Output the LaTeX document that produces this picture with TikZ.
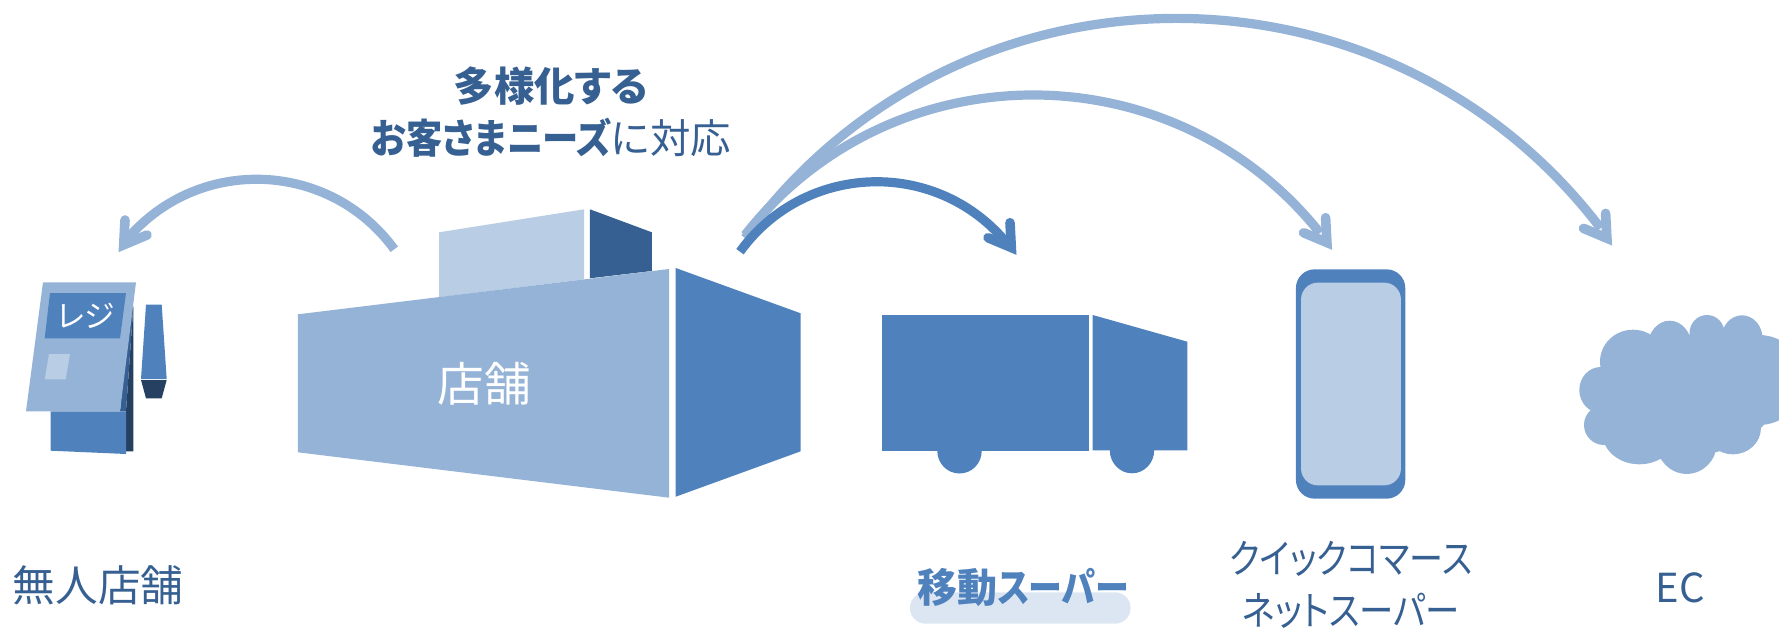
\documentclass[tikz,border=0pt]{standalone}
\usepackage{fontspec}
\setmainfont[RawFeature=+palt]{Noto Sans CJK JP}
\definecolor{cLight}{HTML}{95B3D7}
\definecolor{cMid}{HTML}{4F81BD}
\definecolor{cPale}{HTML}{B9CDE5}
\definecolor{cDark}{HTML}{376092}
\definecolor{cDeep}{HTML}{254061}
\definecolor{cBand}{HTML}{DCE6F2}
\newcommand{\squeezed}[2]{\scalebox{#1}[1]{#2}}
\tikzset{
  shaftline/.style={line width=6.9pt,line cap=butt},
  headline/.style={line width=7.2pt,line cap=round,line join=miter,miter limit=10},
  lab/.style={inner sep=0pt,text=cDark,align=center,font=\fontsize{30}{38.8}\selectfont},
  white label/.style={inner sep=0pt,text=white},
}
\begin{document}
\begin{tikzpicture}[x=0.75pt,y=-0.75pt]
\path[use as bounding box,clip] (0,0) rectangle (1779,628);
% --- kiosk
\fill[cDeep] (133.3,306.7) -- (133.3,451.3) -- (126,451.3) -- (126,411.3) -- cycle;
\fill[cDark] (120,411.3) -- (126,411.3) -- (133.3,306.7) -- (130,310) -- cycle;
\fill[cMid] (50.7,411.3) -- (126,411.3) -- (126,454) -- (50.7,450.7) -- cycle;
\fill[cLight] (43,282.3) -- (136,282.3) -- (120,411.3) -- (26,411.3) -- cycle;
\fill[cMid] (50,293) -- (126,293) -- (120,338.3) -- (44.7,338.3) -- cycle;
\fill[cPale] (49,354) -- (70,354) -- (65.7,379.3) -- (44.7,379.3) -- cycle;
\fill[cMid] (146,304.7) -- (161.7,304.7) -- (166.7,379) -- (141,379) -- cycle;
\fill[cDeep] (141,380) -- (166.7,380) -- (161.7,398.3) -- (146,398.3) -- cycle;
\node[white label,font=\fontsize{23}{26}\selectfont] (reji) at (85.5,316) {レジ};
% --- store
\fill[cPale] (439.1,232.3) -- (584.1,209.3) -- (584.1,279.3) -- (439.1,297.3) -- cycle;
\fill[cDark] (589.9,209.3) -- (651.9,232.3) -- (651.9,271) -- (589.9,278.3) -- cycle;
\fill[cLight] (297.9,314.3) -- (669.1,269) -- (669.1,497.7) -- (297.9,452.3) -- cycle;
\fill[cMid] (675.7,268) -- (800.7,313.3) -- (800.7,451.3) -- (675.7,496.7) -- cycle;
\node[white label,font=\fontsize{35}{38}\selectfont] (store) at (484,384) {店舗};
% --- truck
\fill[cMid] (882,315) rectangle (1089,451);
\fill[cMid] (1092.7,315) -- (1187.3,341.7) -- (1187.3,450.3) -- (1092.7,450.3) -- cycle;
\fill[cMid] (959.5,451) ellipse[x radius=22.2,y radius=22.5];
\fill[cMid] (1132,450.3) ellipse[x radius=22.2,y radius=23];
% --- phone
\node[fill=cMid,inner sep=0pt,minimum width=82pt,minimum height=172pt,rounded corners=14pt] (phone) at (1350.6,384) {};
\node[fill=cPale,inner sep=0pt,minimum width=74.9pt,minimum height=152pt,rounded corners=12.5pt] (screen) at (1351,384) {};
% --- cloud
\fill[cLight]
  (1690,395) ellipse[x radius=85,y radius=60]
  (1633,361.7) ellipse[x radius=33,y radius=32]
  (1669.7,346.7) ellipse[x radius=22,y radius=26]
  (1707,333) ellipse[x radius=17.5,y radius=18]
  (1742,338.3) ellipse[x radius=20.5,y radius=23]
  (1759,380) ellipse[x radius=45,y radius=45]
  (1600.7,390) ellipse[x radius=21.4,y radius=23]
  (1604,425) ellipse[x radius=20,y radius=20]
  (1639.4,433.3) ellipse[x radius=37,y radius=31]
  (1686.7,443.3) ellipse[x radius=30,y radius=30.6]
  (1732.9,428.3) ellipse[x radius=28,y radius=26];
% --- labels
\node[fill=cBand,inner sep=0pt,minimum width=165.5pt,minimum height=23.5pt,rounded corners=11.7pt] (band) at (1020.3,608) {};
\node[lab,font=\fontsize{32}{38.8}\selectfont] (l1) at (98,585.5) {無人店舗};
\node[lab,text=cMid,font=\bfseries\fontsize{30}{38.8}\selectfont] (l2) at (1023,587) {移動\squeezed{0.85}{スーパー}};
\node[lab] (l3) at (1351,585) {\squeezed{0.85}{クイックコマース}\\\squeezed{0.86}{ネットスーパー}};
\node[lab] (l4) at (1680,588) {EC};
\node[lab,font=\fontsize{30.3}{38.8}\selectfont] (head) at (551,112) {\textbf{多様化する}\\\textbf{\squeezed{0.9}{お客さまニーズ}}に対応};
% --- arrow ends
\coordinate (sA) at (394.3,249.3); \coordinate (eA) at (128,238);
\coordinate (sC) at (745,235);     \coordinate (eC) at (1320,233);
\coordinate (sD) at (745,238);     \coordinate (eD) at (1600.7,228.3);
\coordinate (sB) at (740,251.7);   \coordinate (eB) at (1005,241);
% to self-serve register
\draw[shaftline,cLight] (sA) .. controls (329.9,160.8) and (199.7,155.2) .. (eA);
\draw[headline,cLight] (125,220) -- (123.7,244.8) -- (147,235);
% to EC
\draw[shaftline,cLight] (sD) .. controls (954.9,-50.8) and (1384.4,-55.5) .. (eD);
\draw[headline,cLight] (1605.6,213.4) -- (1606.9,238.2) -- (1583.6,228.4);
% to quick commerce
\draw[shaftline,cLight] (sC) .. controls (891.1,49.2) and (1172.5,48.1) .. (eC);
\draw[headline,cLight] (1325.6,217.7) -- (1326.9,242.5) -- (1303.6,232.7);
% to mobile supermarket
\draw[shaftline,cMid] (sB) .. controls (803.9,163.1) and (934.2,157.7) .. (eB);
\draw[headline,cMid] (1010,222.7) -- (1011.3,247.5) -- (988,237.7);
\end{tikzpicture}
\end{document}
